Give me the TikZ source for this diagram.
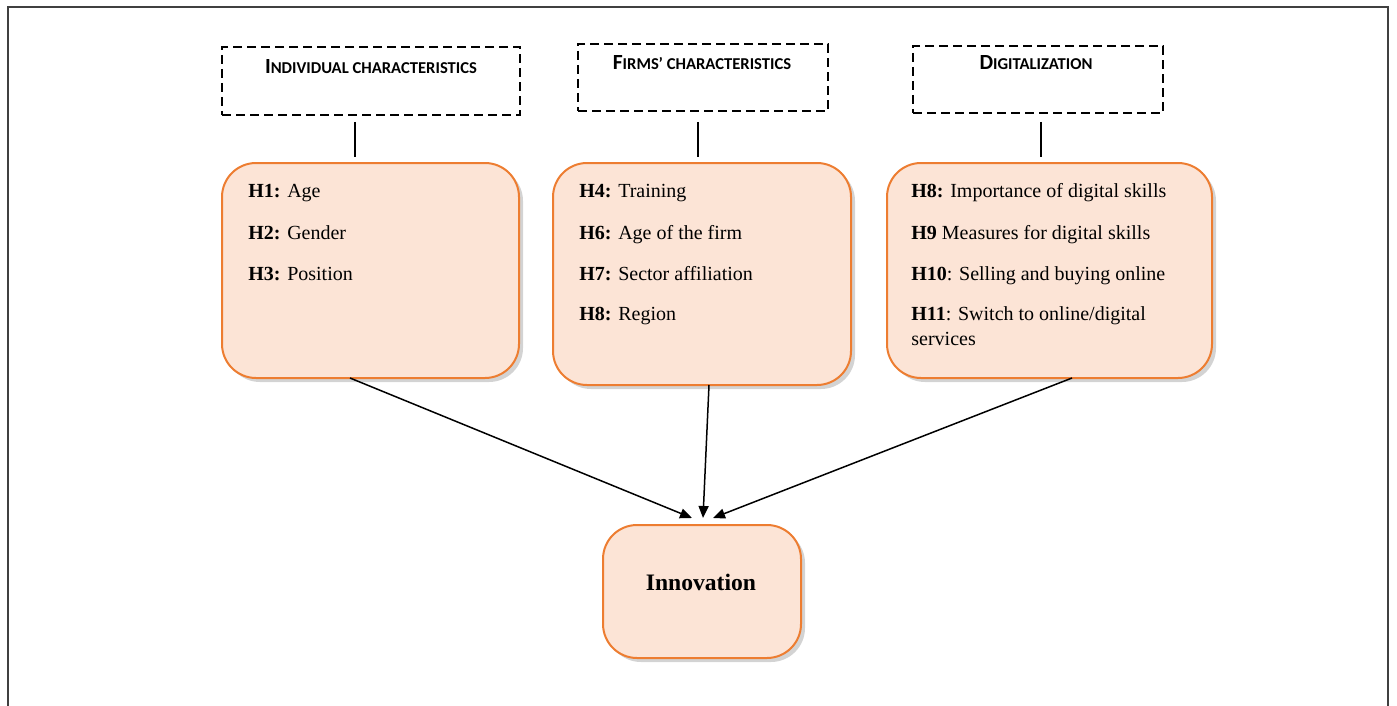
\documentclass[tikz,border=0pt]{standalone}
\usepackage{fontspec}
\setmainfont{Liberation Serif}
\newfontfamily\hdfont{Carlito}
\usetikzlibrary{arrows.meta,shadows}
\definecolor{peach}{HTML}{FCE4D6}
\definecolor{orangeline}{HTML}{ED7D31}
\newcommand\hdtxt[2]{{\hdfont\bfseries\fontsize{10.8}{12}\selectfont #1}{\hdfont\bfseries\fontsize{8.3}{10}\selectfont #2}}
\begin{document}
\begin{tikzpicture}[x=0.5pt,y=-0.5pt,
  dbox/.style={draw=black,line width=0.75pt,dash pattern=on 4.5pt off 2.5pt,fill=white,inner sep=0pt},
  hbox/.style={draw=orangeline,line width=1pt,fill=peach,rounded corners=17pt,inner sep=0pt,
    drop shadow={opacity=0.35,shadow xshift=2pt,shadow yshift=-2pt}},
  htxt/.style={anchor=base west,inner sep=0pt,font=\fontsize{10}{12}\selectfont},
  ttl/.style={anchor=base,inner sep=0pt},
  conn/.style={line width=0.75pt},
  arr/.style={line width=0.75pt,-{Triangle[length=6pt,width=5pt]}}]
\useasboundingbox (0,0) rectangle (1397,706);
% outer frame
\draw[line width=0.6pt,draw=black!75] (8,712) -- (8,7) -- (1388,7) -- (1388,712);
% heading boxes
\node[dbox,minimum width=149pt,minimum height=34pt] (d1) at (371,81) {};
\node[dbox,minimum width=125pt,minimum height=33.5pt] (d2) at (703,77.5) {};
\node[dbox,minimum width=125pt,minimum height=33.5pt] (d3) at (1038,79.5) {};
\node[ttl] (t1) at (371,74) {\hdtxt{I}{NDIVIDUAL CHARACTERISTICS}};
\node[ttl] (t2) at (702,70) {\hdtxt{F}{IRMS’ CHARACTERISTICS}};
\node[ttl] (t3) at (1036,70) {\hdtxt{D}{IGITALIZATION}};
% hypothesis boxes
\node[hbox,minimum width=148.5pt,minimum height=107.5pt] (b1) at (370.5,270.5) {};
\node[hbox,minimum width=149pt,minimum height=111pt] (b2) at (702,274) {};
\node[hbox,minimum width=162.5pt,minimum height=107.5pt] (b3) at (1049.5,270.5) {};
\node[hbox,minimum width=99pt,minimum height=66.5pt] (inn) at (702,591.5) {};
% connectors from heading boxes
\coordinate (c1a) at (355,122); \coordinate (c1b) at (355,157);
\coordinate (c2a) at (698,122); \coordinate (c2b) at (698,157);
\coordinate (c3a) at (1041,122); \coordinate (c3b) at (1041,157);
\draw[conn] (c1a) -- (c1b);
\draw[conn] (c2a) -- (c2b);
\draw[conn] (c3a) -- (c3b);
% texts
\node[htxt] (l11) at (248,198) {\textbf{H1:} Age};
\node[htxt] (l12) at (248,239) {\textbf{H2:} Gender};
\node[htxt] (l13) at (248,280) {\textbf{H3:} Position};
\node[htxt] (l21) at (579,198) {\textbf{H4:} Training};
\node[htxt] (l22) at (579,239) {\textbf{H6:} Age of the firm};
\node[htxt] (l23) at (579,280) {\textbf{H7:} Sector affiliation};
\node[htxt] (l24) at (579,320) {\textbf{H8:} Region};
\node[htxt] (l31) at (911,198) {\textbf{H8:} Importance of digital skills};
\node[htxt] (l32) at (911,239) {\textbf{H9} Measures for digital skills};
\node[htxt] (l33) at (911,280) {\textbf{H10}: Selling and buying online};
\node[htxt] (l34) at (911,320) {\textbf{H11}: Switch to online/digital};
\node[htxt] (l35) at (911,345) {services};
\node[anchor=base,inner sep=0pt,font=\fontsize{11.8}{14}\selectfont\bfseries] (it) at (701,590) {Innovation};
% arrows
\coordinate (s1) at (350,378);
\coordinate (s2) at (709,385);
\coordinate (s3) at (1072,378);
\coordinate (e1) at (692,518);
\coordinate (e2) at (703,518);
\coordinate (e3) at (713,518);
\draw[arr] (s1) -- (e1);
\draw[arr] (s2) -- (e2);
\draw[arr] (s3) -- (e3);
\end{tikzpicture}
\end{document}
